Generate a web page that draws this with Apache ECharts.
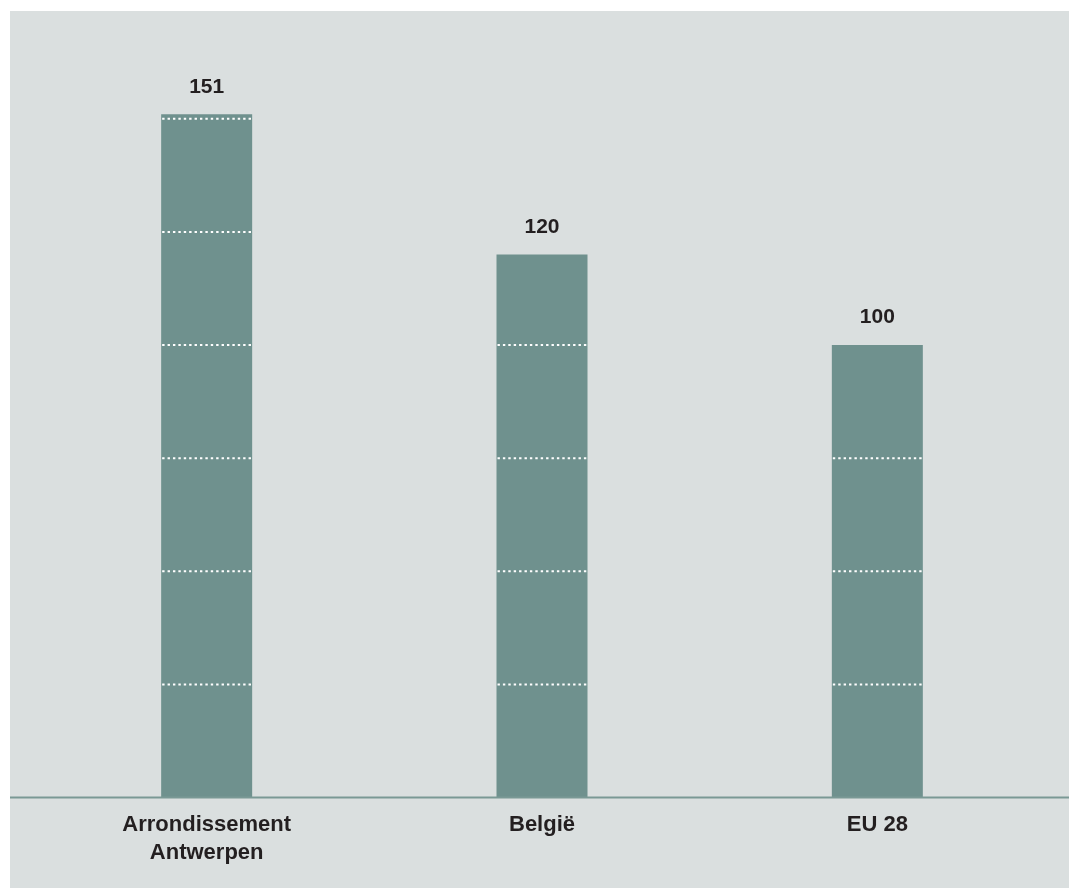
<!DOCTYPE html>
<html>
<head>
<meta charset="utf-8">
<style>
  html, body { margin: 0; padding: 0; background: #ffffff; }
  #chart { position: absolute; left: 10px; top: 11px; width: 1059px; height: 877px; }
</style>
<script src="https://cdn.jsdelivr.net/npm/echarts@6/dist/echarts.min.js"></script>
</head>
<body>
<div id="chart"></div>
<script>
// Index values (EU 28 = 100)
const categories = ['Arrondissement\nAntwerpen', 'België', 'EU 28'];
const values = [151, 120, 100];
// Dotted guide lines drawn across each bar
const guideStep = 25;

const BAR_WIDTH = 91;
const BAR_COLOR = '#6f918e';
const TEXT_COLOR = '#231f20';
const FONT = '"Liberation Sans", Arial, sans-serif';

const chart = echarts.init(document.getElementById('chart'));

const option = {
  backgroundColor: '#dadfdf',
  animation: false,
  grid: { left: 29, right: 24, top: 62.5, bottom: 90.5 },
  xAxis: {
    type: 'category',
    data: categories,
    axisLine: { show: false },
    axisTick: { show: false },
    axisLabel: {
      color: TEXT_COLOR,
      fontFamily: FONT,
      fontWeight: 'bold',
      fontSize: 22,
      lineHeight: 28,
      margin: 13
    }
  },
  yAxis: {
    type: 'value',
    min: 0,
    max: 160,
    show: false,
    splitLine: { show: false }
  },
  series: [
    {
      type: 'bar',
      data: values,
      barWidth: BAR_WIDTH,
      itemStyle: { color: BAR_COLOR },
      label: {
        show: true,
        position: 'top',
        distance: 17,
        color: TEXT_COLOR,
        fontFamily: FONT,
        fontWeight: 'bold',
        fontSize: 21
      },
      z: 2
    },
    {
      type: 'custom',
      data: values.map((v, i) => [i, v]),
      z: 3,
      silent: true,
      renderItem: function (params, api) {
        const idx = api.value(0);
        const val = api.value(1);
        const children = [];
        for (let g = guideStep; g < val; g += guideStep) {
          const p = api.coord([idx, g]);
          children.push({
            type: 'line',
            shape: { x1: p[0] - BAR_WIDTH / 2 + 1, y1: p[1], x2: p[0] + BAR_WIDTH / 2 - 1, y2: p[1] },
            style: { stroke: '#ffffff', lineWidth: 2, lineDash: [2.4, 3] }
          });
        }
        return { type: 'group', children: children };
      }
    }
  ]
};

chart.setOption(option);

// Baseline across the full panel width
const baseY = chart.convertToPixel({ yAxisIndex: 0 }, 0);
chart.setOption({
  graphic: [{
    type: 'line',
    shape: { x1: 0, y1: baseY, x2: 1059, y2: baseY },
    style: { stroke: '#7a9995', lineWidth: 2 },
    z: 10
  }]
});
</script>
</body>
</html>
